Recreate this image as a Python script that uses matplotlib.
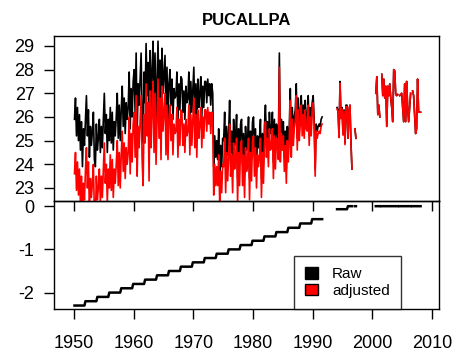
import numpy as np
import matplotlib
matplotlib.use("Agg")
import matplotlib.pyplot as plt
from matplotlib.patches import Patch

nan = np.nan
TITLE = "PUCALLPA"
SERIES_NAMES = ["Raw", "adjusted"]
SERIES_COLORS = ["black", "red"]
XTICKS = [1950, 1960, 1970, 1980, 1990, 2000, 2010]
YTICKS_TOP = [23, 24, 25, 26, 27, 28, 29]
YTICKS_BOT = [0, -1, -2]
START_YEAR = 1950
PER_YEAR = 6  # bi-monthly samples

# raw temperature (deg C), 6 values per year
raw_1950s = [
    25.9, 26.8, 25.2, 26.4, 25.0, 26.1,
    24.6, 25.8, 23.9, 25.5, 24.8, 25.9,
    26.9, 25.2, 26.3, 24.3, 25.6, 24.8,
    25.4, 26.2, 24.2, 23.9, 25.7, 24.6,
    25.1, 25.9, 24.5, 25.6, 24.7, 25.8,
    27.0, 25.3, 26.1, 24.5, 25.9, 25.0,
    26.4, 24.9, 26.2, 24.6, 25.8, 25.2,
    26.0, 27.0, 25.1, 26.5, 25.0, 26.3,
    27.3, 25.6, 26.8, 25.3, 26.6, 25.9,
    26.4, 27.9, 25.5, 27.2, 26.0, 27.5,
]
raw_1960s = [
    28.0, 26.1, 28.7, 25.3, 27.4, 26.5,
    27.6, 28.7, 26.0, 24.9, 27.9, 26.6,
    29.1, 26.9, 28.3, 25.0, 28.8, 26.4,
    28.0, 29.2, 26.2, 28.7, 25.7, 27.5,
    29.2, 26.7, 28.4, 25.8, 28.9, 27.0,
    27.8, 28.6, 26.0, 28.1, 25.8, 27.4,
    28.0, 26.5, 27.6, 25.9, 27.2, 26.8,
    26.9, 27.9, 25.8, 27.4, 26.3, 27.7,
    27.6, 26.2, 27.1, 25.9, 27.3, 26.6,
    26.8, 27.9, 25.8, 27.5, 26.2, 27.2,
]
raw_1970s = [
    28.1, 26.0, 27.4, 25.6, 27.6, 26.4,
    27.0, 27.7, 26.0, 27.3, 26.4, 27.5,
    27.5, 26.6, 27.6, 26.9, 27.4, 26.5,
    27.4, 27.0, 23.9, 25.2, 24.3, 25.0,
    24.2, 25.5, 23.5, 24.8, 23.9, 25.1,
    25.0, 26.2, 23.9, 25.6, 24.4, 25.3,
    26.7, 24.5, 25.4, 23.8, 25.9, 24.8,
    25.2, 26.1, 23.4, 25.5, 24.1, 25.7,
    25.9, 24.0, 25.3, 23.5, 25.6, 24.6,
    24.9, 26.0, 23.4, 25.4, 24.2, 25.8,
]
raw_1980s = [
    26.0, 24.3, 25.5, 23.8, 25.2, 24.7,
    25.1, 25.9, 23.4, 25.3, 24.0, 25.6,
    26.5, 25.0, 25.8, 24.6, 26.2, 25.3,
    25.4, 26.2, 24.1, 25.9, 24.5, 25.7,
    25.5, 24.8, 28.7, 24.7, 25.9, 25.2,
    25.8, 24.3, 25.4, 23.8, 25.6, 24.6,
    25.6, 27.2, 24.8, 26.4, 25.3, 26.0,
    26.3, 27.4, 25.1, 26.8, 25.5, 26.1,
    26.9, 25.6, 26.5, 25.5, 26.7, 25.9,
    25.8, 26.9, 25.2, 26.4, 25.6, 26.6,
]
raw_1990s = [
    26.9, 25.9, 23.8, 25.7, 25.4, 25.6,
    25.7, 25.6, 25.9, 26.0, nan, nan,
    nan, nan, nan, nan, nan, nan,
    nan, nan, nan, nan, nan, nan,
    26.4, 26.3, 25.2, 27.5, 26.0, 26.4,
    25.3, 26.3, 24.9, 26.5, 26.5, 25.1,
    26.3, 26.5, 24.9, 23.8, nan, nan,
    25.5, 25.1, nan, nan, nan, nan,
    nan, nan, nan, nan, nan, nan,
    nan, nan, nan, nan, nan, nan,
]
raw_2000s = [
    nan, nan, nan, 27.0, 27.7, 26.1,
    26.5, 26.0, nan, 27.8, 26.9, 27.6,
    26.8, 27.3, 25.6, 27.3, 26.9, 27.4,
    26.8, 26.4, 25.8, 28.0, 27.95, 26.95,
    26.9, 26.95, nan, 26.9, 26.95, 27.0,
    26.4, 25.8, 27.4, 25.8, 27.5, 26.4,
    25.8, 26.4, 27.0, nan, 27.1, 26.9,
    26.1, 25.3, 25.5, 27.6, 26.2, 26.2,
    26.2, nan, nan, nan, nan, nan,
]

# adjustment (adjusted - raw): level starting at each year
adj_start = [1950.0, 1951.83, 1953.83, 1955.83, 1957.83, 1959.83, 1961.83,
             1963.83, 1965.83, 1967.83, 1969.83, 1971.83, 1973.83, 1975.83,
             1977.83, 1979.83, 1981.83, 1983.83, 1985.83, 1987.83, 1989.83,
             1993.9, 1995.9]
adj_level = [-2.3, -2.2, -2.1, -2.0, -1.9, -1.8, -1.7, -1.6, -1.5, -1.4,
             -1.3, -1.2, -1.1, -1.0, -0.9, -0.8, -0.7, -0.6, -0.5, -0.4,
             -0.3, -0.07, 0.0]

raw = np.array(raw_1950s + raw_1960s + raw_1970s + raw_1980s + raw_1990s + raw_2000s, float)
t = START_YEAR + (np.arange(raw.size) + 0.5) / PER_YEAR
idx = np.searchsorted(np.array(adj_start), t, side="right") - 1
adj = np.array(adj_level)[idx]
adj = np.where(np.isnan(raw), np.nan, adj)
adjusted = raw + adj

W, H = 457, 363
DPI = 100
plt.rcParams["font.family"] = ["Liberation Sans", "DejaVu Sans"]
fs = 13.0

fig = plt.figure(figsize=(W / DPI, H / DPI), dpi=DPI)
L, R = 54, 439
ax1 = fig.add_axes([L / W, (H - 201) / H, (R - L) / W, (201 - 36) / H])
ax2 = fig.add_axes([L / W, (H - 309) / H, (R - L) / W, (309 - 201) / H])
ax2.patch.set_alpha(0)
ax1.set_zorder(3)
ax1.patch.set_alpha(0)

ax1.plot(t, raw, color=SERIES_COLORS[0], lw=1.2)
ax1.plot(t, adjusted, color=SERIES_COLORS[1], lw=1.2)
ax1.set_xlim(1946.65, 2011.17)
ax1.set_ylim(22.45, 29.42)
ax1.set_yticks(YTICKS_TOP)
ax1.set_xticks(XTICKS)
ax1.set_xticklabels([])
ax1.set_title(TITLE, fontsize=12, fontweight="bold", pad=8)

ax2.plot(t, adj, color="black", lw=1.8)
ax2.set_xlim(1946.65, 2011.17)
ax2.set_ylim(-2.38, 0.12)
ax2.set_yticks(YTICKS_BOT)
ax2.set_yticklabels(["0", "-1", "-2"])
ax2.set_xticks(XTICKS)

for ax in (ax1, ax2):
    for s in ax.spines.values():
        s.set_linewidth(1.0)
    ax.tick_params(direction="out", length=7, width=1.0, labelsize=fs,
                   pad=7, colors="black")
ax2.tick_params(axis="x", pad=12)

handles = [Patch(facecolor=c, edgecolor="black", lw=1.0, label=n)
           for c, n in zip(SERIES_COLORS, SERIES_NAMES)]
leg = ax2.legend(handles=handles, loc="lower left",
                 bbox_to_anchor=((294 - L) / (R - L), 0.0), borderaxespad=0,
                 fontsize=11, fancybox=False, edgecolor="black",
                 handlelength=0.85, handleheight=0.75, handletextpad=0.9,
                 labelspacing=0.15, borderpad=0.75)
leg.get_frame().set_linewidth(1.0)

fig.savefig("out.png", dpi=DPI)
